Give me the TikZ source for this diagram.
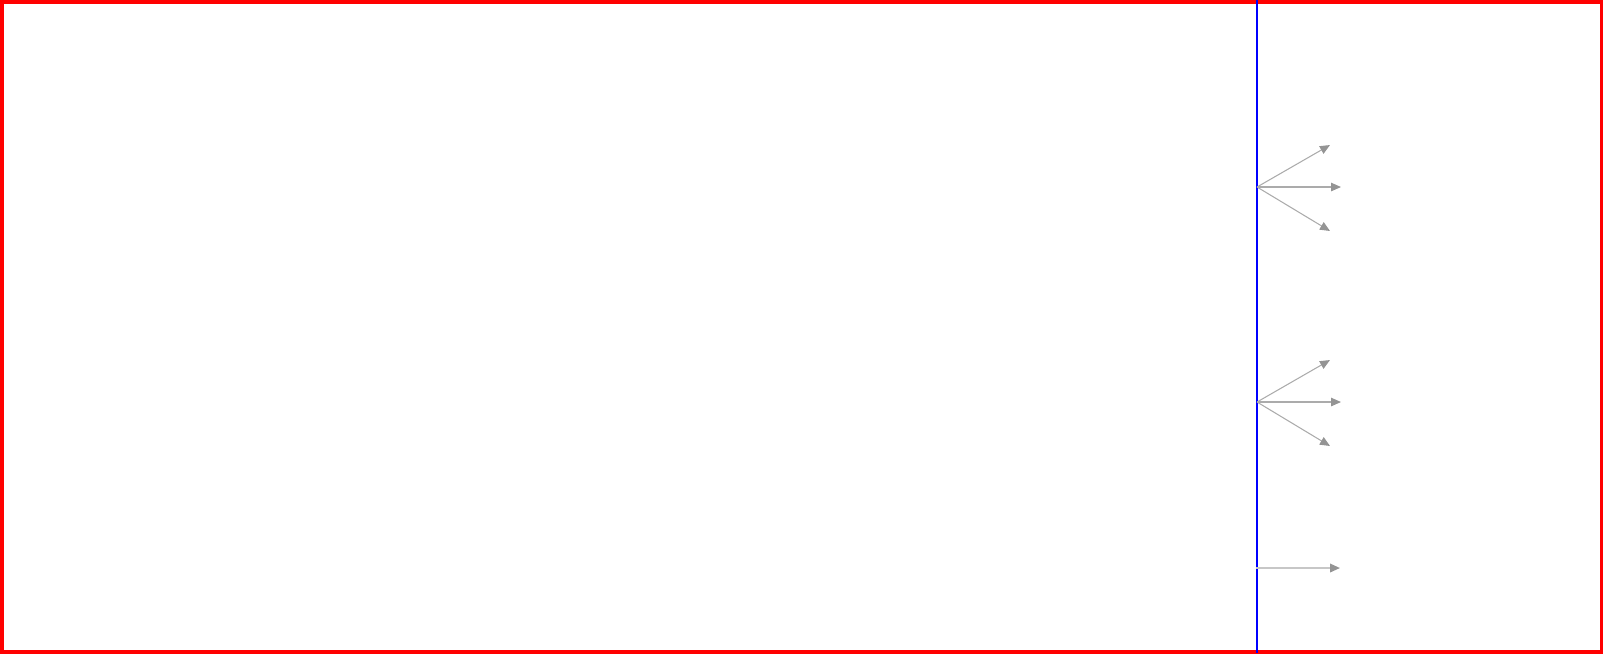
\documentclass[tikz,border=0pt]{standalone}
\usetikzlibrary{arrows.meta}
\tikzset{
  fan/.style={draw=black!33, line width=0.3pt, -{Triangle[length=1mm,width=0.85mm,color=black!42,fill=black!42]}},
  single/.style={fan, draw=black!22, line width=0.55pt}
}
\begin{document}
\begin{tikzpicture}[x=0.01cm,y=-0.01cm]
\useasboundingbox (0,0) rectangle (1603,653);
\draw[red, line width=2pt] (0,0) rectangle (1603,653);
\draw[blue] (1257,0) -- (1257,653);
%two fans of three arrows
\foreach \y/\g in {187/a,402/b} {
  \coordinate (src\g) at (1257,\y);
  \coordinate (up\g) at (1330,\y-42);
  \coordinate (mid\g) at (1341,\y);
  \coordinate (low\g) at (1330,\y+44);
  \draw [fan] (src\g) -- (up\g);
  \draw [fan] (src\g) -- (mid\g);
  \draw [fan] (src\g) -- (low\g);
}
%one plain arrow
\coordinate (srcc) at (1256,568);
\coordinate (endc) at (1340,568);
\draw [single] (srcc) -- (endc);
\end{tikzpicture}
\end{document}
